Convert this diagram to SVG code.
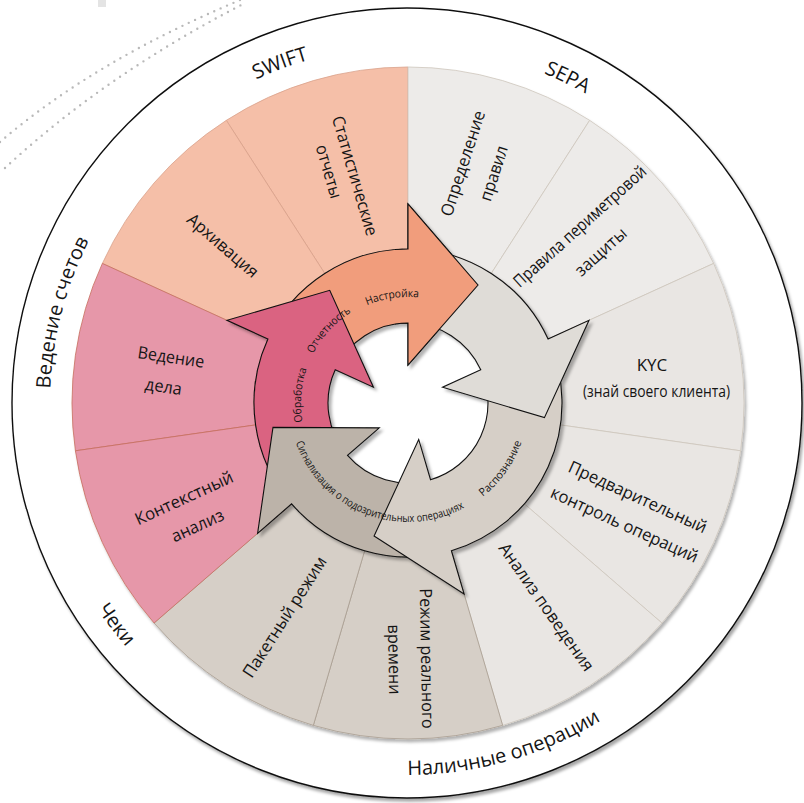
<svg xmlns="http://www.w3.org/2000/svg" width="804" height="803" viewBox="0 0 804 803">
<defs>
<style>
.lbl{font-family:"Open Sans","Noto Sans",sans-serif;fill:#151515}
.seg-txt{font-size:17px}
.outer-txt{font-size:20px}
.ring-txt{font-size:11px}
.peach{fill:#F5BFA8;stroke:#D9A28C;stroke-width:0.8}
.pink{fill:#E697A9;stroke:#C76E5E;stroke-width:0.8}
.beige{fill:#D6CFC7;stroke:#A89D90;stroke-width:0.8}
.light{fill:#E9E6E3;stroke:#CEC7BD;stroke-width:0.8}
.lighter{fill:#EDEBE9;stroke:#CEC7BD;stroke-width:0.8}
.arrow{stroke:#111;stroke-width:1.1;stroke-linejoin:miter}
.dots{fill:none;stroke:#B9B9B9;stroke-width:2.4;stroke-dasharray:0 7;stroke-linecap:round}
</style>
<filter id="shOuter" x="-5%" y="-5%" width="112%" height="112%"><feDropShadow dx="2" dy="3" stdDeviation="1.5" flood-color="#000" flood-opacity="0.35"/></filter>
<filter id="shSeg" x="-5%" y="-5%" width="112%" height="112%"><feDropShadow dx="2" dy="3" stdDeviation="1.5" flood-color="#000" flood-opacity="0.3"/></filter>
<filter id="shArrow" x="-10%" y="-10%" width="125%" height="125%"><feDropShadow dx="3" dy="3" stdDeviation="1.5" flood-color="#000" flood-opacity="0.3"/></filter>
<clipPath id="clipR"><rect x="395" y="150" width="250" height="300"/></clipPath>
<path id="arrowOrange" class="arrow" fill="#F19D7C" d="M 267.92 339.03 A 154 154 0 0 1 408 249 L 408 204 L 478 285 L 408 365 L 408 323 A 80 80 0 0 0 335.23 369.77 Z"/>
<path id="pSwift" d="M 50.01 406.12 A 357 357 0 0 1 678.47 171.15"/>
<path id="pSepa" d="M 160.13 145.12 A 357 357 0 0 1 761.88 441.87"/>
<path id="pVed" d="M 203.77 696.5 A 357 357 0 0 1 374.02 47.53"/>
<path id="pCheki" d="M 93.96 202.03 A 372 372 0 0 0 517.62 758.17"/>
<path id="pNal" d="M 105.10 620.34 A 372 372 0 0 0 777.98 430.57"/>
<path id="pNastr" d="M 304.13 381.87 A 106 106 0 0 1 501.15 352.42"/>
<path id="pOtch" d="M 312.92 452.08 A 107 107 0 0 1 449.29 304.29"/>
<path id="pObr" d="M 364.14 500.6 A 107 107 0 0 1 378.87 300.04"/>
<path id="pRasp" d="M 376.54 518.8 A 120 120 0 0 0 506.54 334.51"/>
<path id="pSig" d="M 289.03 400.51 A 119 119 0 0 0 497.54 481.38"/>
</defs>

<g id="background">
<rect x="0" y="0" width="804" height="803" fill="#fff"/>
<rect x="98" y="0" width="8" height="7" fill="#E4E4E4"/>
<path class="dots" d="M 0 142 Q 95 60 245 -2"/>
<path class="dots" d="M 5 168 Q 105 75 245 3"/>
</g>

<g id="outer-ring">
<circle cx="407" cy="403" r="395" fill="#fff" stroke="#111" stroke-width="1.4" filter="url(#shOuter)"/>
</g>

<g id="category-labels" class="lbl outer-txt">
<text><textPath href="#pSwift" startOffset="50%" text-anchor="middle">SWIFT</textPath></text>
<text><textPath href="#pSepa" startOffset="50%" text-anchor="middle">SEPA</textPath></text>
<text><textPath href="#pVed" startOffset="50%" text-anchor="middle">Ведение счетов</textPath></text>
<text><textPath href="#pCheki" startOffset="50%" text-anchor="middle">Чеки</textPath></text>
<text><textPath href="#pNal" startOffset="50%" text-anchor="middle">Наличные операции</textPath></text>
</g>

<g id="segments" filter="url(#shSeg)">
<g id="seg-statisticheskie"><path class="peach" d="M 408 67 A 336 336 0 0 0 226.34 120.34 L 324.74 273.45 A 154 154 0 0 1 408 249 Z"/></g>
<g id="seg-arhivaciya"><path class="peach" d="M 226.34 120.34 A 336 336 0 0 0 102.36 263.42 L 267.92 339.03 A 154 154 0 0 1 324.74 273.45 Z"/></g>
<g id="seg-opredelenie"><path class="lighter" d="M 589.66 120.34 A 336 336 0 0 0 408 67 L 408 249 A 154 154 0 0 1 491.26 273.45 Z"/></g>
<g id="seg-pravila"><path class="lighter" d="M 713.64 263.42 A 336 336 0 0 0 589.66 120.34 L 491.26 273.45 A 154 154 0 0 1 548.08 339.03 Z"/></g>
<g id="seg-kyc"><path class="light" d="M 740.58 450.82 A 336 336 0 0 0 713.64 263.42 L 548.08 339.03 A 154 154 0 0 1 560.43 424.92 Z"/></g>
<g id="seg-predvaritelnyi"><path class="light" d="M 661.93 623.03 A 336 336 0 0 0 740.58 450.82 L 560.43 424.92 A 154 154 0 0 1 524.39 503.85 Z"/></g>
<g id="seg-analiz"><path class="light" d="M 502.66 725.39 A 336 336 0 0 0 661.93 623.03 L 524.39 503.85 A 154 154 0 0 1 451.39 550.76 Z"/></g>
<g id="seg-rezhim"><path class="beige" d="M 313.34 725.39 A 336 336 0 0 0 502.66 725.39 L 451.39 550.76 A 154 154 0 0 1 364.61 550.76 Z"/></g>
<g id="seg-paketnyi"><path class="beige" d="M 154.07 623.03 A 336 336 0 0 0 313.34 725.39 L 364.61 550.76 A 154 154 0 0 1 291.61 503.85 Z"/></g>
<g id="seg-vedenie"><path class="pink" d="M 102.36 263.42 A 336 336 0 0 0 75.42 450.82 L 255.57 424.92 A 154 154 0 0 1 267.92 339.03 Z"/></g>
<g id="seg-kontekst"><path class="pink" d="M 75.42 450.82 A 336 336 0 0 0 154.07 623.03 L 291.61 503.85 A 154 154 0 0 1 255.57 424.92 Z"/></g>
</g>

<g id="segment-labels" class="lbl seg-txt" text-anchor="middle">
<text transform="translate(355 175.8) rotate(73.6)" dy=".35em" textLength="124" lengthAdjust="spacingAndGlyphs">Статистические</text>
<text transform="translate(329 171.5) rotate(73.6)" dy=".35em" textLength="55" lengthAdjust="spacingAndGlyphs">отчеты</text>
<text transform="translate(223 245.5) rotate(40.9)" dy=".35em" textLength="88" lengthAdjust="spacingAndGlyphs">Архивация</text>
<text transform="translate(171 357) rotate(8.2)" dy=".35em" textLength="67" lengthAdjust="spacingAndGlyphs">Ведение</text>
<text transform="translate(163.5 386.5) rotate(8.2)" dy=".35em" textLength="37" lengthAdjust="spacingAndGlyphs">дела</text>
<text transform="translate(184 498) rotate(-24.5)" dy=".35em" textLength="106" lengthAdjust="spacingAndGlyphs">Контекстный</text>
<text transform="translate(197.5 525.5) rotate(-24.5)" dy=".35em" textLength="56" lengthAdjust="spacingAndGlyphs">анализ</text>
<text transform="translate(284.5 617) rotate(-57.3)" dy=".35em" textLength="140" lengthAdjust="spacingAndGlyphs">Пакетный режим</text>
<text transform="translate(427 658.5) rotate(89)" dy=".35em" textLength="140" lengthAdjust="spacingAndGlyphs">Режим реального</text>
<text transform="translate(394.5 659.5) rotate(89)" dy=".35em" textLength="70" lengthAdjust="spacingAndGlyphs">времени</text>
<text transform="translate(546.5 607) rotate(55)" dy=".35em" textLength="152" lengthAdjust="spacingAndGlyphs">Анализ поведения</text>
<text transform="translate(637.8 497) rotate(24.5)" dy=".35em" textLength="150" lengthAdjust="spacingAndGlyphs">Предварительный</text>
<text transform="translate(624.5 524.5) rotate(24.5)" dy=".35em" textLength="160" lengthAdjust="spacingAndGlyphs">контроль операций</text>
<text x="652" y="365.5" dy=".35em">KYC</text>
<text x="656.5" y="391" dy=".35em" textLength="147" lengthAdjust="spacingAndGlyphs">(знай своего клиента)</text>
<text transform="translate(579.8 226.3) rotate(-42)" dy=".35em" textLength="172" lengthAdjust="spacingAndGlyphs">Правила периметровой</text>
<text transform="translate(600.7 251.7) rotate(-42)" dy=".35em" textLength="63" lengthAdjust="spacingAndGlyphs">защиты</text>
<text transform="translate(462.8 163.3) rotate(-72)" dy=".35em" textLength="110" lengthAdjust="spacingAndGlyphs">Определение</text>
<text transform="translate(493.7 173.3) rotate(-72)" dy=".35em" textLength="57" lengthAdjust="spacingAndGlyphs">правил</text>
</g>

<g id="connectors" filter="url(#shArrow)">
<g id="arrow-nastroika"><use href="#arrowOrange"/></g>
<g id="arrow-obrabotka"><path class="arrow" fill="#DA6381" d="M 291.61 503.85 A 154 154 0 0 1 267.92 339.03 L 226.98 320.33 L 329.74 290.31 L 373.43 387.21 L 335.23 369.77 A 80 80 0 0 0 347.54 455.39 Z"/></g>
<g id="arrow-signalizaciya"><path class="arrow" fill="#BCB3A9" d="M 451.39 550.76 A 154 154 0 0 1 291.61 503.85 L 257.61 533.32 L 272.98 427.37 L 379.28 427.88 L 347.54 455.39 A 80 80 0 0 0 430.54 479.76 Z"/></g>
<g id="arrow-raspoznanie"><path class="arrow" fill="#D6CFC7" d="M 548.08 339.03 A 154 154 0 0 1 451.39 550.76 L 464.06 593.94 L 374.08 535.94 L 418.71 439.46 L 430.54 479.76 A 80 80 0 0 0 480.77 369.77 Z"/></g>
<g id="arrow-grey"><path class="arrow" fill="#DFDCD7" d="M 408 249 A 154 154 0 0 1 548.08 339.03 L 589.02 320.33 L 544.42 417.65 L 442.57 387.21 L 480.77 369.77 A 80 80 0 0 0 408 323 Z"/></g>
<use href="#arrowOrange" clip-path="url(#clipR)"/>
</g>

<g id="cycle-labels" class="lbl ring-txt">
<text><textPath href="#pNastr" startOffset="50%" text-anchor="middle" textLength="53" lengthAdjust="spacingAndGlyphs">Настройка</textPath></text>
<text><textPath href="#pOtch" startOffset="50%" text-anchor="middle" textLength="57" lengthAdjust="spacingAndGlyphs">Отчетность</textPath></text>
<text><textPath href="#pObr" startOffset="50%" text-anchor="middle" textLength="54" lengthAdjust="spacingAndGlyphs">Обработка</textPath></text>
<text><textPath href="#pRasp" startOffset="50%" text-anchor="middle" textLength="68" lengthAdjust="spacingAndGlyphs">Распознание</textPath></text>
<text><textPath href="#pSig" startOffset="50%" text-anchor="middle" textLength="205" lengthAdjust="spacingAndGlyphs">Сигнализация о подозрительных операциях</textPath></text>
</g>
</svg>
